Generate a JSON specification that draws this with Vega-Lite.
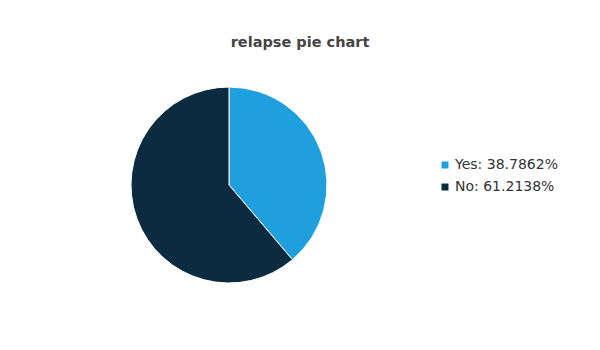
{
  "$schema": "https://vega.github.io/schema/vega-lite/v6.json",
  "autosize": "none",
  "width": 196,
  "height": 196,
  "padding": {"left": 131, "top": 87, "right": 273, "bottom": 67},
  "background": "white",
  "title": {
    "text": "relapse pie chart",
    "anchor": "middle",
    "dx": 71,
    "offset": 35,
    "font": "DejaVu Sans",
    "fontSize": 14.5,
    "fontWeight": "bold",
    "color": "#444444"
  },
  "data": {
    "values": [
      {"relapse": "Yes", "label": "Yes: 38.7862%", "pct": 38.7862, "ord": 1},
      {"relapse": "No", "label": "No: 61.2138%", "pct": 61.2138, "ord": 2}
    ]
  },
  "mark": {"type": "arc", "outerRadius": 98, "stroke": "white", "strokeWidth": 1},
  "encoding": {
    "theta": {"field": "pct", "type": "quantitative", "stack": true},
    "order": {"field": "ord", "type": "quantitative"},
    "color": {
      "field": "label",
      "type": "nominal",
      "scale": {"domain": ["Yes: 38.7862%", "No: 61.2138%"], "range": ["#209fdf", "#0b2b40"]},
      "legend": {
        "title": null,
        "orient": "none",
        "legendX": 307,
        "legendY": 71,
        "symbolType": "square",
        "symbolSize": 49,
        "symbolStrokeWidth": 0,
        "labelFont": "DejaVu Sans",
        "labelFontSize": 14,
        "labelColor": "#333333",
        "labelOffset": 3,
        "rowPadding": 8,
        "labelLimit": 300
      }
    }
  },
  "config": {"view": {"stroke": null}}
}
